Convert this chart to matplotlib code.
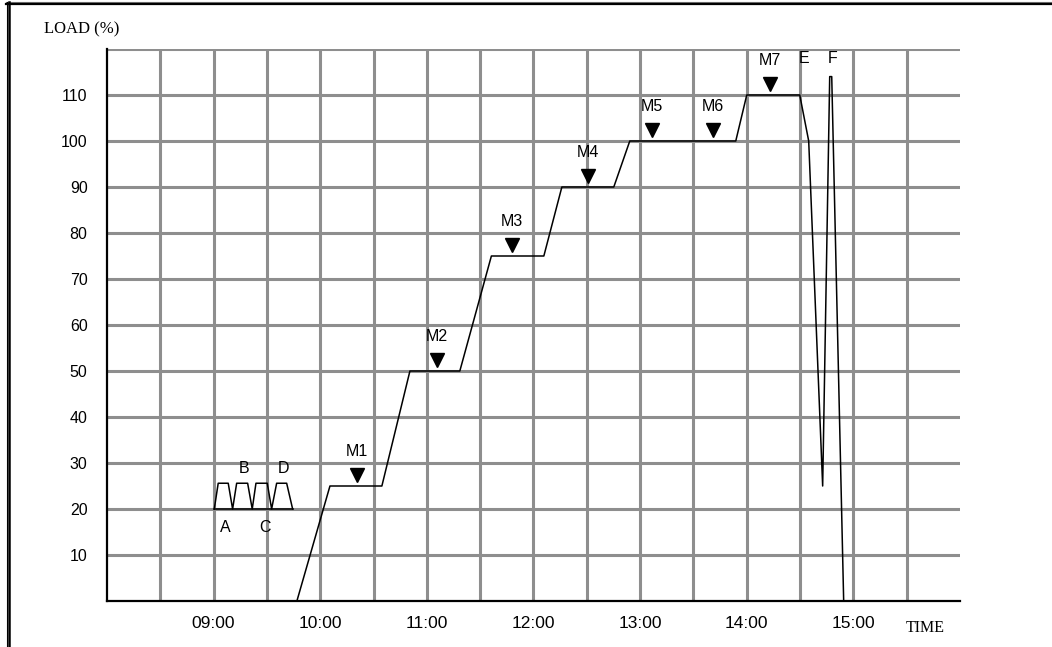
import numpy as np
import matplotlib.pyplot as plt
from matplotlib.lines import Line2D

# load profile (time in hours, load in %)
load_time = [9.781, 10.091, 10.578, 10.841, 11.309, 11.605, 12.097, 12.266,
             12.753, 12.903, 13.897, 14.0, 14.497, 14.581, 14.712, 14.778,
             14.797, 14.909]
load_pct = [0, 25, 25, 50, 50, 75, 75, 90, 90, 100, 100, 110, 110, 100, 25,
            114, 114, 0]

# A-D start/stop pulses at 20-26 %
pulse_time = [9.006, 9.043, 9.137, 9.178, 9.216, 9.319, 9.362, 9.397,
              9.503, 9.544, 9.591, 9.685, 9.741]
pulse_pct = [20, 25.6, 25.6, 20, 25.6, 25.6, 20, 25.6, 25.6, 20, 25.6,
             25.6, 20]
pulse_names = ['A', 'B', 'C', 'D']
pulse_label_time = [9.11, 9.29, 9.48, 9.66]
pulse_label_pct = [15.9, 28.7, 15.9, 28.7]

# measurement points M1..M7
m_names = ['M1', 'M2', 'M3', 'M4', 'M5', 'M6', 'M7']
m_time = [10.344, 11.094, 11.797, 12.51, 13.11, 13.68, 14.216]
m_level = [25, 50, 75, 90, 100, 100, 110]

# E / F trip events
ev_names = ['E', 'F']
ev_time = [14.54, 14.81]

hour_ticks = [9, 10, 11, 12, 13, 14, 15]
hour_labels = ['09:00', '10:00', '11:00', '12:00', '13:00', '14:00', '15:00']
load_ticks = [10, 20, 30, 40, 50, 60, 70, 80, 90, 100, 110]

fig = plt.figure(figsize=(10.52, 6.47), dpi=100)
ax = fig.add_axes([107 / 1052, 46 / 647, 853 / 1052, 552 / 647])

grid_kw = dict(color='#8e8e8e', lw=2.2, zorder=1)
for y in range(10, 121, 10):
    ax.axhline(y, **grid_kw)
for x in np.arange(8.5, 16, 0.5):
    ax.axvline(x, **grid_kw)

ax.plot(load_time, load_pct, color='black', lw=1.1, zorder=3)
ax.plot(pulse_time, pulse_pct, color='black', lw=1.1, zorder=3)
ax.plot([pulse_time[0], pulse_time[-1]], [20, 20], color='black', lw=1.1, zorder=3)

txt_kw = dict(fontsize=11.5, family='Liberation Sans', ha='center', va='center', zorder=4)
for name, t, p in zip(pulse_names, pulse_label_time, pulse_label_pct):
    ax.text(t, p, name, **txt_kw)

for name, t, lv in zip(m_names, m_time, m_level):
    ax.plot(t, lv + 2.3, marker='v', ms=10, color='black', ls='none', zorder=4)
    ax.text(t, lv + 7.4, name, **txt_kw)

for name, t in zip(ev_names, ev_time):
    ax.text(t, 118, name, **txt_kw)

ax.set_xlim(8, 16)
ax.set_ylim(0, 120)
ax.set_xticks(hour_ticks)
ax.set_xticklabels(hour_labels)
ax.set_yticks(load_ticks)
ax.tick_params(length=0)
ax.tick_params(axis='y', pad=14, labelsize=11.5)
ax.tick_params(axis='x', pad=11, labelsize=12.5)
for lab in ax.get_xticklabels() + ax.get_yticklabels():
    lab.set_family('Liberation Sans')

ax.spines['top'].set_visible(False)
ax.spines['right'].set_visible(False)
ax.spines['left'].set_linewidth(1.6)
ax.spines['bottom'].set_linewidth(1.6)

fig.text(82 / 1052, 1 - 29 / 647, 'LOAD (%)', family='Liberation Serif',
         fontsize=12, ha='center', va='center')
fig.text(925 / 1052, 1 - 628 / 647, 'TIME', family='Liberation Serif',
         fontsize=11.5, ha='center', va='center')

# page frame
def px_line(x0, y0, x1, y1, lw, color='black'):
    fig.add_artist(Line2D([x0 / 1052, x1 / 1052], [1 - y0 / 647, 1 - y1 / 647],
                          transform=fig.transFigure, lw=lw, color=color))

px_line(6, 1.5, 1052, 1.5, 0.8, '#777777')
px_line(6, 3.7, 1052, 3.7, 1.6)
px_line(6.5, 2, 6.5, 647, 0.8)
px_line(9, 2, 9, 647, 1.8)

fig.savefig('out.png', dpi=100)
